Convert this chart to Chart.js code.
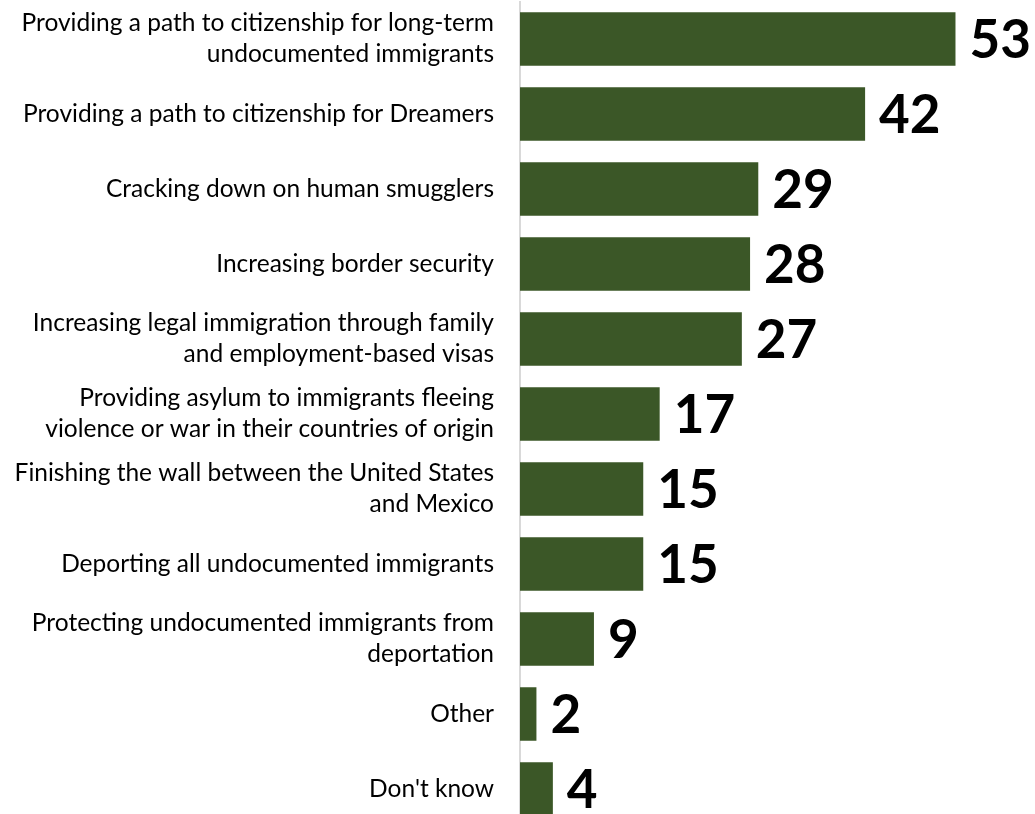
<!DOCTYPE html>
<html>
<head>
<meta charset="utf-8">
<script src="https://cdn.jsdelivr.net/npm/chart.js@4"></script>
<style>
html,body{margin:0;padding:0;background:#fff;overflow:hidden;}
#wrap{position:relative;width:1035px;height:828px;}
</style>
</head>
<body>
<div id="wrap"><canvas id="c"></canvas></div>
<script>
const categories = [
  ["Providing a path to citizenship for long-term", "undocumented immigrants"],
  "Providing a path to citizenship for Dreamers",
  "Cracking down on human smugglers",
  "Increasing border security",
  ["Increasing legal immigration through family", "and employment-based visas"],
  ["Providing asylum to immigrants fleeing", "violence or war in their countries of origin"],
  ["Finishing the wall between the United States", "and Mexico"],
  "Deporting all undocumented immigrants",
  ["Protecting undocumented immigrants from", "deportation"],
  "Other",
  "Don't know"
];
const values = [53, 42, 29, 28, 27, 17, 15, 15, 9, 2, 4];

const valueLabels = {
  id: 'valueLabels',
  afterDatasetsDraw(chart) {
    const ctx = chart.ctx;
    const meta = chart.getDatasetMeta(0);
    ctx.save();
    ctx.font = 'bold 53px Lato';
    ctx.fillStyle = '#000';
    ctx.textAlign = 'left';
    ctx.textBaseline = 'middle';
    meta.data.forEach((bar, i) => {
      ctx.fillText(String(values[i]), bar.x + 14, bar.y + 2);
    });
    ctx.restore();
  }
};

new Chart(document.getElementById('c'), {
  type: 'bar',
  data: {
    labels: categories,
    datasets: [{
      data: values,
      backgroundColor: '#3b5727',
      borderWidth: 0,
      barPercentage: 0.713,
      categoryPercentage: 1.0
    }]
  },
  options: {
    indexAxis: 'y',
    responsive: true,
    maintainAspectRatio: false,
    animation: false,
    layout: { padding: { left: 0, right: 22, top: 1.5, bottom: 1.5 } },
    plugins: { legend: { display: false }, tooltip: { enabled: false } },
    scales: {
      x: {
        min: 0, max: 60,
        display: false,
        grid: { display: false }
      },
      y: {
        afterFit(scale) {
          scale.width = 520;
          scale.paddingTop = 0;
          scale.paddingBottom = 0;
        },
        grid: { display: false, drawTicks: false },
        border: { display: true, color: '#d9d9d9', width: 2 },
        ticks: {
          color: '#000',
          padding: 26,
          font: { family: 'Lato', size: 24.5, lineHeight: 1.27 }
        }
      }
    }
  },
  plugins: [valueLabels]
});
</script>
</body>
</html>
